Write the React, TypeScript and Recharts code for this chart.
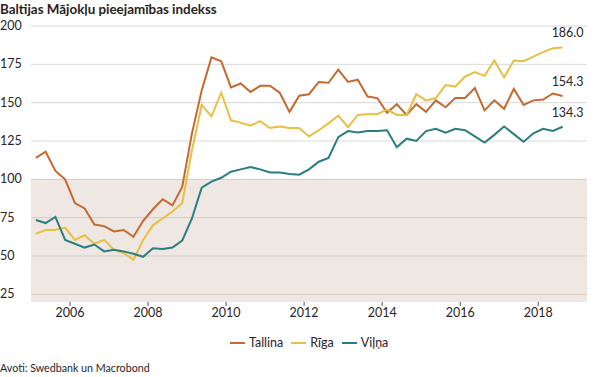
import {
  LineChart,
  Line,
  XAxis,
  YAxis,
  ReferenceArea,
  ReferenceLine,
  LabelList,
} from "recharts";

// quarterly index values, 2005 Q1 .. 2018 Q3
const tallina = [
  114, 118, 105.5, 100, 84.5, 81, 70.5, 69.5, 66, 67, 62.5, 73, 80.5, 87, 83,
  95, 130, 158, 179.5, 177, 160, 162.5, 157, 161, 161, 156.5, 144, 154.5,
  155.5, 163.5, 163, 171.5, 163.5, 165, 154, 153, 143.5, 149, 142, 149, 144,
  151.5, 147, 153, 153, 159.5, 145, 151.5, 146, 159, 148.5, 151.5, 152, 156,
  154.3,
];
const riga = [
  64.5, 67, 67, 68.5, 60.5, 63.5, 58, 60.5, 54, 52, 47.5, 60.5, 70, 74.5, 79,
  84.5, 119, 148.5, 141, 156.5, 138.5, 137, 135, 138, 133.5, 134.5, 133.5,
  133.5, 128, 132, 136.5, 141.5, 134, 142, 142.5, 142.5, 145.5, 142, 142,
  155.5, 151.5, 153, 161.5, 160.5, 167, 170, 167.5, 177.5, 166.5, 177.5, 177,
  180, 183, 185.5, 186.0,
];
const vilna = [
  73.5, 71.5, 75.5, 60.5, 58, 55.5, 57.5, 53, 54, 53, 51.5, 49.5, 55, 54.5,
  55.5, 60, 74.5, 94.5, 98.5, 101, 105, 106.5, 108, 106.5, 104.5, 104.5, 103.5,
  103, 106.5, 111.5, 114, 127.5, 131.5, 130.5, 131.5, 131.5, 132, 121, 126.5,
  125, 131.5, 133, 130.5, 133, 132, 128, 124, 129, 134.5, 129.5, 124.5, 130,
  133, 131.5, 134.3,
];

const yearTicks = [2006, 2008, 2010, 2012, 2014, 2016, 2018];
const yTicks = [25, 50, 75, 100, 125, 150, 175, 200];

const SERIES = [
  { key: "tallina", name: "Tallina", color: "#c4692f" },
  { key: "riga", name: "Rīga", color: "#e8bf45" },
  { key: "vilna", name: "Viļņa", color: "#2a7d80" },
];

const FONT = "Lato, 'Open Sans', sans-serif";
const TEXT = "#2b2326";

const data = tallina.map((v, i) => ({
  t: 2005 + i / 4 + 0.125,
  tallina: v,
  riga: riga[i],
  vilna: vilna[i],
}));

const last = data.length - 1;

// eslint-disable-next-line @typescript-eslint/no-explicit-any
const YTick = (props: any) => {
  const { y, payload } = props;
  return (
    <text x={0} y={y} dy={4} fontSize={12.5} fill={TEXT} fontFamily={FONT}>
      {payload.value}
    </text>
  );
};

// eslint-disable-next-line @typescript-eslint/no-explicit-any
const endLabel = (props: any) => {
  const { x, y, index, value } = props;
  if (index !== last) return null;
  return (
    <text
      x={x + 5}
      y={y - 10}
      textAnchor="middle"
      fontSize={12.5}
      fill={TEXT}
      fontFamily={FONT}
    >
      {Number(value).toFixed(1)}
    </text>
  );
};

export default function App() {
  return (
    <div
      style={{
        position: "absolute",
        top: 0,
        left: 0,
        width: 603,
        height: 377,
        background: "#fff",
        fontFamily: FONT,
        color: TEXT,
      }}
    >
      <div
        style={{
          position: "absolute",
          left: 0,
          top: 1,
          fontSize: 13.4,
          fontWeight: 700,
          color: "#2a1e22",
        }}
      >
        Baltijas Mājokļu pieejamības indekss
      </div>

      <LineChart
        width={603}
        height={377}
        data={data}
        margin={{ top: 26, right: 16, bottom: 45, left: 0 }}
      >
        <XAxis
          dataKey="t"
          type="number"
          domain={[2005, 2019.25]}
          ticks={yearTicks}
          axisLine={false}
          tickLine={{ stroke: "#555" }}
          tickSize={4}
          height={30}
          tick={{ fontSize: 12.5, fill: TEXT, fontFamily: FONT }}
        />
        <YAxis
          domain={[20, 200]}
          ticks={yTicks}
          width={31}
          axisLine={false}
          tickLine={false}
          tick={<YTick />}
          allowDataOverflow
        />
        <ReferenceArea
          y1={20}
          y2={100}
          fill="#efe8e2"
          fillOpacity={1}
          stroke="none"
        />
        {yTicks.map((v) => (
          <ReferenceLine
            key={v}
            y={v}
            stroke={v <= 100 ? "#d8cbc0" : "#d9d9d9"}
            strokeWidth={1}
          />
        ))}
        {SERIES.map((s) => (
          <Line
            key={s.key}
            dataKey={s.key}
            name={s.name}
            stroke={s.color}
            strokeWidth={2}
            dot={false}
            isAnimationActive={false}
          >
            <LabelList dataKey={s.key} content={endLabel} />
          </Line>
        ))}
      </LineChart>

      {/* Legend */}
      <div
        style={{
          position: "absolute",
          top: 335,
          left: 230,
          display: "flex",
          gap: 8,
          fontSize: 12.5,
        }}
      >
        {SERIES.map((s) => (
          <div key={s.key} style={{ display: "flex", alignItems: "center", gap: 4 }}>
            <div style={{ width: 15, height: 2, background: s.color }} />
            <span>{s.name}</span>
          </div>
        ))}
      </div>

      <div
        style={{
          position: "absolute",
          left: 0,
          top: 361,
          fontSize: 10.7,
        }}
      >
        Avoti: Swedbank un Macrobond
      </div>
    </div>
  );
}
